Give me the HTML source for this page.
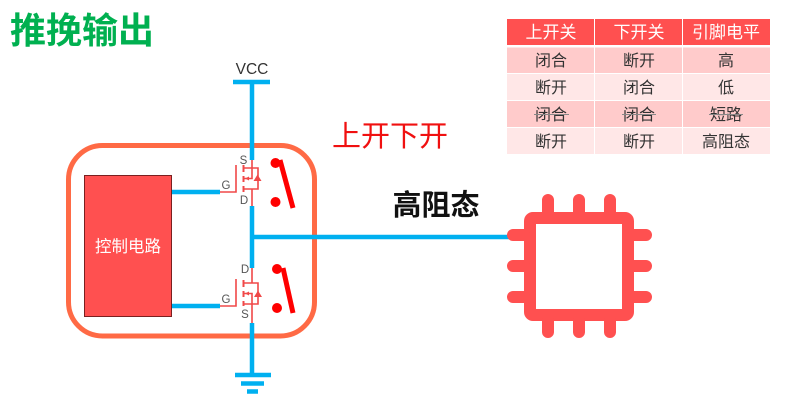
<!DOCTYPE html>
<html><head><meta charset="utf-8">
<style>
html,body{margin:0;padding:0;background:#fff;width:796px;height:400px;overflow:hidden}
svg{display:block}
text{font-family:"Liberation Sans","Noto Sans CJK SC",sans-serif;text-anchor:middle}
.cjk{font-family:"Noto Sans CJK SC","Liberation Sans",sans-serif}
.cell{font-size:16px;fill:#333}
.hd{font-size:17px;fill:#fff}
.lb{font-size:11.5px;fill:#555}
</style></head><body>
<svg width="796" height="400" viewBox="0 0 796 400" xmlns="http://www.w3.org/2000/svg">
<rect x="68.5" y="145.5" width="246" height="190.5" rx="34" fill="none" stroke="#FF6A45" stroke-width="5"/>
<g stroke="#00B0F0" stroke-width="4.5" fill="none">
<path d="M233 82H270M252 82V160M252 206V268M252 323V375M235 375H271M241 383.500H264M247 391.500H258M252 237H512M172 192H220M172 306H220"/>
</g>
<rect x="84.500" y="175.500" width="87" height="141" fill="#FF5050" stroke="#7a2020" stroke-width="1"/>
<text class="cjk" x="128" y="252" font-size="16.500" fill="#fff">控制电路</text>
<g fill="none" stroke="#F04848" stroke-width="1.600">
<path d="M220 192H236V165M252 160V168H243.500M252 189H243.500M252 189V206M252 168H258V189H252M252 168V178.500H243.500"/>
<path d="M243.500 165V172M243.500 176V182M243.500 186V192" stroke-width="2"/>
<path d="M220 306H236V279M252 268V283H243.500M252 304H243.500M252 304V323M252 283H258V304H252M252 304V293.500H243.500"/>
<path d="M243.500 280V287M243.500 291V297M243.500 301V306" stroke-width="2"/>
</g>
<g fill="#F04848"><path d="M257.500 174.500L261.500 181H253.500Z"/><path d="M258 290.500L262 297H254Z"/><path d="M245 178.500L249 176.500V180.500Z"/><path d="M245 293.500L249 291.500V295.500Z"/></g>
<text class="lb" x="243.500" y="164">S</text>
<text class="lb" x="226" y="189">G</text>
<text class="lb" x="244" y="204">D</text>
<text class="lb" x="245" y="273">D</text>
<text class="lb" x="226" y="303">G</text>
<text class="lb" x="245" y="318">S</text>
<g fill="#FF0000"><circle cx="275.500" cy="163" r="5"/><circle cx="275.500" cy="202" r="5"/><circle cx="277" cy="269" r="5"/><circle cx="277" cy="308" r="5"/></g>
<g stroke="#FF0000" stroke-width="5" fill="none"><path d="M280 160L293 208M283 268L293 313"/></g>
<g fill="none" stroke="#FF5050">
<rect x="530" y="218" width="98" height="97" rx="3" stroke-width="12"/>
<g stroke-width="12" stroke-linecap="round"><path d="M548 200V212M579 200V212M610 200V212M548 321V332M579 321V332M610 321V332M513 235H524M513 266H524M513 297H524M634 235H646M634 266H646M634 297H646"/></g>
</g>
<text x="252" y="74" font-size="15.500" fill="#333">VCC</text>
<text class="cjk" x="82" y="43" font-size="36" font-weight="700" fill="#00B050">推挽输出</text>
<text class="cjk" x="390" y="146" font-size="29" fill="#F01010">上开下开</text>
<text class="cjk" x="436" y="215" font-size="29" font-weight="700" fill="#111">高阻态</text>
<rect x="507" y="19" width="87" height="26" fill="#FF5050"/><rect x="595" y="19" width="87" height="26" fill="#FF5050"/><rect x="683" y="19" width="87" height="26" fill="#FF5050"/>
<g fill="#FFCBCB"><rect x="507" y="47.500" width="87" height="25.500"/><rect x="595" y="47.500" width="87" height="25.500"/><rect x="683" y="47.500" width="87" height="25.500"/><rect x="507" y="101" width="87" height="26"/><rect x="595" y="101" width="87" height="26"/><rect x="683" y="101" width="87" height="26"/></g>
<g fill="#FFE7E7"><rect x="507" y="74" width="87" height="26"/><rect x="595" y="74" width="87" height="26"/><rect x="683" y="74" width="87" height="26"/><rect x="507" y="128" width="87" height="26"/><rect x="595" y="128" width="87" height="26"/><rect x="683" y="128" width="87" height="26"/></g>
<g>
<text class="cjk hd" x="551" y="38">上开关</text><text class="cjk hd" x="639" y="38">下开关</text><text class="cjk hd" x="726" y="38">引脚电平</text>
<text class="cjk cell" x="551" y="66">闭合</text><text class="cjk cell" x="639" y="66">断开</text><text class="cjk cell" x="726" y="66">高</text>
<text class="cjk cell" x="551" y="93">断开</text><text class="cjk cell" x="639" y="93">闭合</text><text class="cjk cell" x="726" y="93">低</text>
<text class="cjk cell" x="551" y="120">闭合</text><text class="cjk cell" x="639" y="120">闭合</text><text class="cjk cell" x="726" y="120">短路</text>
<text class="cjk cell" x="551" y="147">断开</text><text class="cjk cell" x="639" y="147">断开</text><text class="cjk cell" x="726" y="147">高阻态</text>
</g>
<path d="M534 114.500H569M622 114.500H656M709 114.500H743" stroke="#888" stroke-width="1" fill="none"/>
</svg>
</body></html>
